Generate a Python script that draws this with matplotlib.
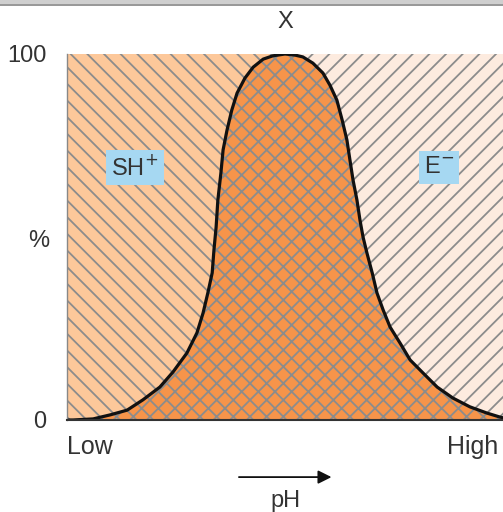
import matplotlib
matplotlib.use('Agg')
import matplotlib.pyplot as plt
from matplotlib.patches import Rectangle

plt.rcParams['font.family'] = ['Liberation Sans', 'DejaVu Sans']
plt.rcParams['hatch.linewidth'] = 1.3
plt.rcParams['hatch.color'] = '#8c8c8c'

# curve of X (%), pH axis scaled 0 (low) .. 100 (high)
ph_left = [0, 1.4, 6.0, 9.9, 13.8, 17.4, 21.3, 24.3, 27.5, 29.8, 31.2, 32.3, 33.3,
           33.7, 34.2, 34.6, 35.3, 35.8, 36.7, 37.8, 39.0, 40.8, 42.7, 45.0, 47.2, 50.0]
x_left = [0, 0, 0.3, 1.4, 2.7, 5.5, 9.0, 13.1, 18.3, 23.8, 29.2, 34.7, 40.2,
          46.4, 52.7, 60.1, 67.5, 73.8, 79.2, 84.7, 89.3, 93.4, 96.4, 98.6, 99.5, 100]
ph_right = [50.0, 52.3, 54.1, 56.4, 58.7, 60.3, 61.9, 63.1, 64.2, 64.9, 65.6, 66.5,
            67.2, 67.9, 68.8, 70.0, 71.1, 72.5, 74.1, 76.4, 78.7, 81.7, 84.9, 88.5,
            92.4, 96.3, 99.3, 100]
x_right = [100, 99.7, 99.2, 97.5, 94.8, 91.5, 87.4, 82.0, 76.5, 71.0, 65.6, 60.1,
           54.6, 50.0, 45.6, 40.2, 34.7, 30.1, 25.4, 21.0, 16.4, 12.8, 9.0, 6.0,
           3.6, 1.9, 0.8, 0.6]

ph = ph_left + ph_right[1:]
xs = x_left + x_right[1:]

fig = plt.figure(figsize=(5.03, 5.12), dpi=100)
ax = fig.add_axes([67/503, 1-420/512, 436/503, 366/512])

gray = '#8c8c8c'
# SH+ region (left, above the curve)
ax.fill_between(ph_left, x_left, 100, facecolor='#fdc89a', edgecolor=gray,
                hatch='\\\\', lw=0)
# E- region (right, above the curve)
ax.fill_between(ph_right, x_right, 100, facecolor='#fdebdf', edgecolor=gray,
                hatch='//', lw=0)
# X region under the curve
ax.fill_between(ph, 0, xs, facecolor='#f6944a', edgecolor=gray, hatch='xx', lw=0)
ax.plot(ph, xs, color='#111111', lw=2.3, solid_joinstyle='round', solid_capstyle='round')

ax.set_xlim(0, 100)
ax.set_ylim(0, 100)
for s in ['top', 'right']:
    ax.spines[s].set_visible(False)
ax.spines['left'].set_color('#888888')
ax.spines['left'].set_linewidth(1.0)
ax.spines['bottom'].set_color('#333333')
ax.spines['bottom'].set_linewidth(1.5)

fs = 17
ax.set_xticks([])
ax.set_yticks([0, 100])
ax.set_yticklabels(['0', '100'], fontsize=fs, color='#333333')
ax.tick_params(axis='y', length=0, pad=15)

box = dict(boxstyle='square,pad=0.22', facecolor='#a6d8f2', edgecolor='none')
ax.text(15.6, 69, 'SH$^{+}$', fontsize=fs, color='#333333', ha='center', va='center', bbox=box)
ax.text(85.3, 69, 'E$^{\u2212}$', fontsize=fs, color='#333333', ha='center', va='center', bbox=box)

tr = ax.get_xaxis_transform()
ax.text(50, 1.087, 'X', fontsize=fs, color='#333333', ha='center', va='center', transform=tr)
ax.text(-6.5, 0.49, '%', fontsize=fs, color='#333333', ha='center', va='center', transform=tr)
ax.text(0, -0.075, 'Low', fontsize=fs + 1, color='#333333', ha='left', va='center', transform=tr)
ax.text(98.8, -0.075, 'High', fontsize=fs + 1, color='#333333', ha='right', va='center', transform=tr)
ax.annotate('', xy=(61.3, -0.156), xytext=(38.8, -0.156), xycoords=tr, textcoords=tr,
            arrowprops=dict(arrowstyle='-|>', color='#111111', lw=1.3, mutation_scale=20),
            annotation_clip=False)
ax.text(50, -0.222, 'pH', fontsize=fs, color='#333333', ha='center', va='center', transform=tr)

# grey strip along the top edge
fig.add_artist(Rectangle((0, 1-4/512), 1, 4/512, transform=fig.transFigure,
                         facecolor='#cfcfcf', edgecolor='none'))
fig.add_artist(Rectangle((0, 1-6/512), 1, 2/512, transform=fig.transFigure,
                         facecolor='#999999', edgecolor='none'))

fig.savefig('out.png', dpi=100)
